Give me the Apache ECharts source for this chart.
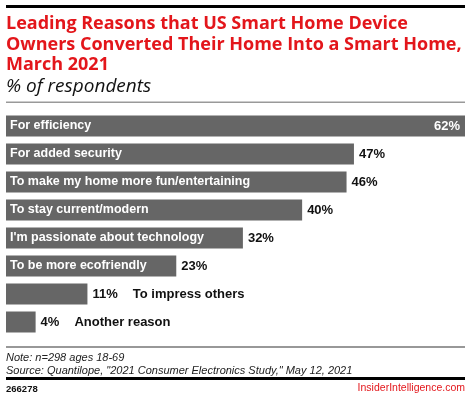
<!DOCTYPE html>
<html><head><meta charset="utf-8">
<script src="https://cdn.jsdelivr.net/npm/echarts@6/dist/echarts.min.js"></script>
<style>html,body{margin:0;padding:0;background:#fff}#c{width:470px;height:399px}</style>
</head><body><div id="c"></div>
<script>
const categories = ["For efficiency","For added security","To make my home more fun/entertaining","To stay current/modern","I'm passionate about technology","To be more ecofriendly","To impress others","Another reason"];
const values = [62,47,46,40,32,23,11,4];
const insideLabelMin = 20; // bars shorter than this get the category name outside

const FONT = '"Liberation Sans", Arial, sans-serif';
const TFONT = '"Open Sans", "Liberation Sans", Arial, sans-serif';
const chart = echarts.init(document.getElementById('c'), null, {renderer:'canvas'});

const barData = values.map((v,i)=>({
  value: v,
  label: {show: v >= insideLabelMin}
}));
const valData = values.map((v,i)=>{
  const big = i === 0;
  const short = v < insideLabelMin;
  return {
    value: v,
    label: big ? {position:'insideRight', color:'#fff', distance:5, formatter: v + '%'} :
      {position:'right', distance:5,
       formatter: short ? ('{v|' + v + '%}{c|' + categories[i] + '}') : (v + '%')}
  };
});

chart.setOption({
  animation:false,
  grid:{left:6, right:5, top:112, height:224, containLabel:false},
  xAxis:{type:'value', min:0, max:62, show:false},
  yAxis:{type:'category', data:categories, inverse:true, show:false},
  series:[
    {type:'bar', data:barData, barWidth:21, itemStyle:{color:'#666666'},
     label:{show:true, position:'insideLeft', distance:4, color:'#fff', fontFamily:FONT, fontWeight:'bold', fontSize:12.5,
       formatter:p=>p.name}, silent:true, z:2},
    {type:'bar', data:valData, barWidth:21, barGap:'-100%', itemStyle:{color:'rgba(0,0,0,0)'},
     label:{show:true, position:'right', color:'#111', fontFamily:FONT, fontWeight:'bold', fontSize:13,
       rich:{v:{fontFamily:FONT, fontWeight:'bold', fontSize:13, color:'#111'},
             c:{fontFamily:FONT, fontWeight:'bold', fontSize:13, color:'#111', padding:[0,0,0,15]}}},
     silent:true, z:3}
  ],
  graphic:[
    {type:'rect', shape:{x:6,y:5,width:459,height:3}, style:{fill:'#000'}},
    {type:'text', left:6, top:14, style:{text:'Leading Reasons that US Smart Home Device\nOwners Converted Their Home Into a Smart Home,\nMarch 2021',
      font:'bold 18px ' + TFONT, fill:'#e3161b', lineHeight:20.5}},
    {type:'text', left:6, top:77, style:{text:'% of respondents', font:'italic 19px ' + TFONT, fill:'#111'}},
    {type:'rect', shape:{x:6,y:101.5,width:459,height:1.5}, style:{fill:'#999'}},
    {type:'rect', shape:{x:6,y:346.5,width:459,height:1}, style:{fill:'#333'}},
    {type:'text', left:6, top:351, style:{text:'Note: n=298 ages 18-69\nSource: Quantilope, "2021 Consumer Electronics Study," May 12, 2021',
      font:'italic 11px ' + FONT, fill:'#222', lineHeight:13}},
    {type:'rect', shape:{x:6,y:377,width:459,height:3}, style:{fill:'#000'}},
    {type:'text', left:6, top:384, style:{text:'266278', font:'bold 9.5px ' + FONT, fill:'#111'}},
    {type:'text', right:5, top:383, style:{text:'InsiderIntelligence.com', font:'10.5px ' + FONT, fill:'#e3161b'}}
  ]
});
</script></body></html>
